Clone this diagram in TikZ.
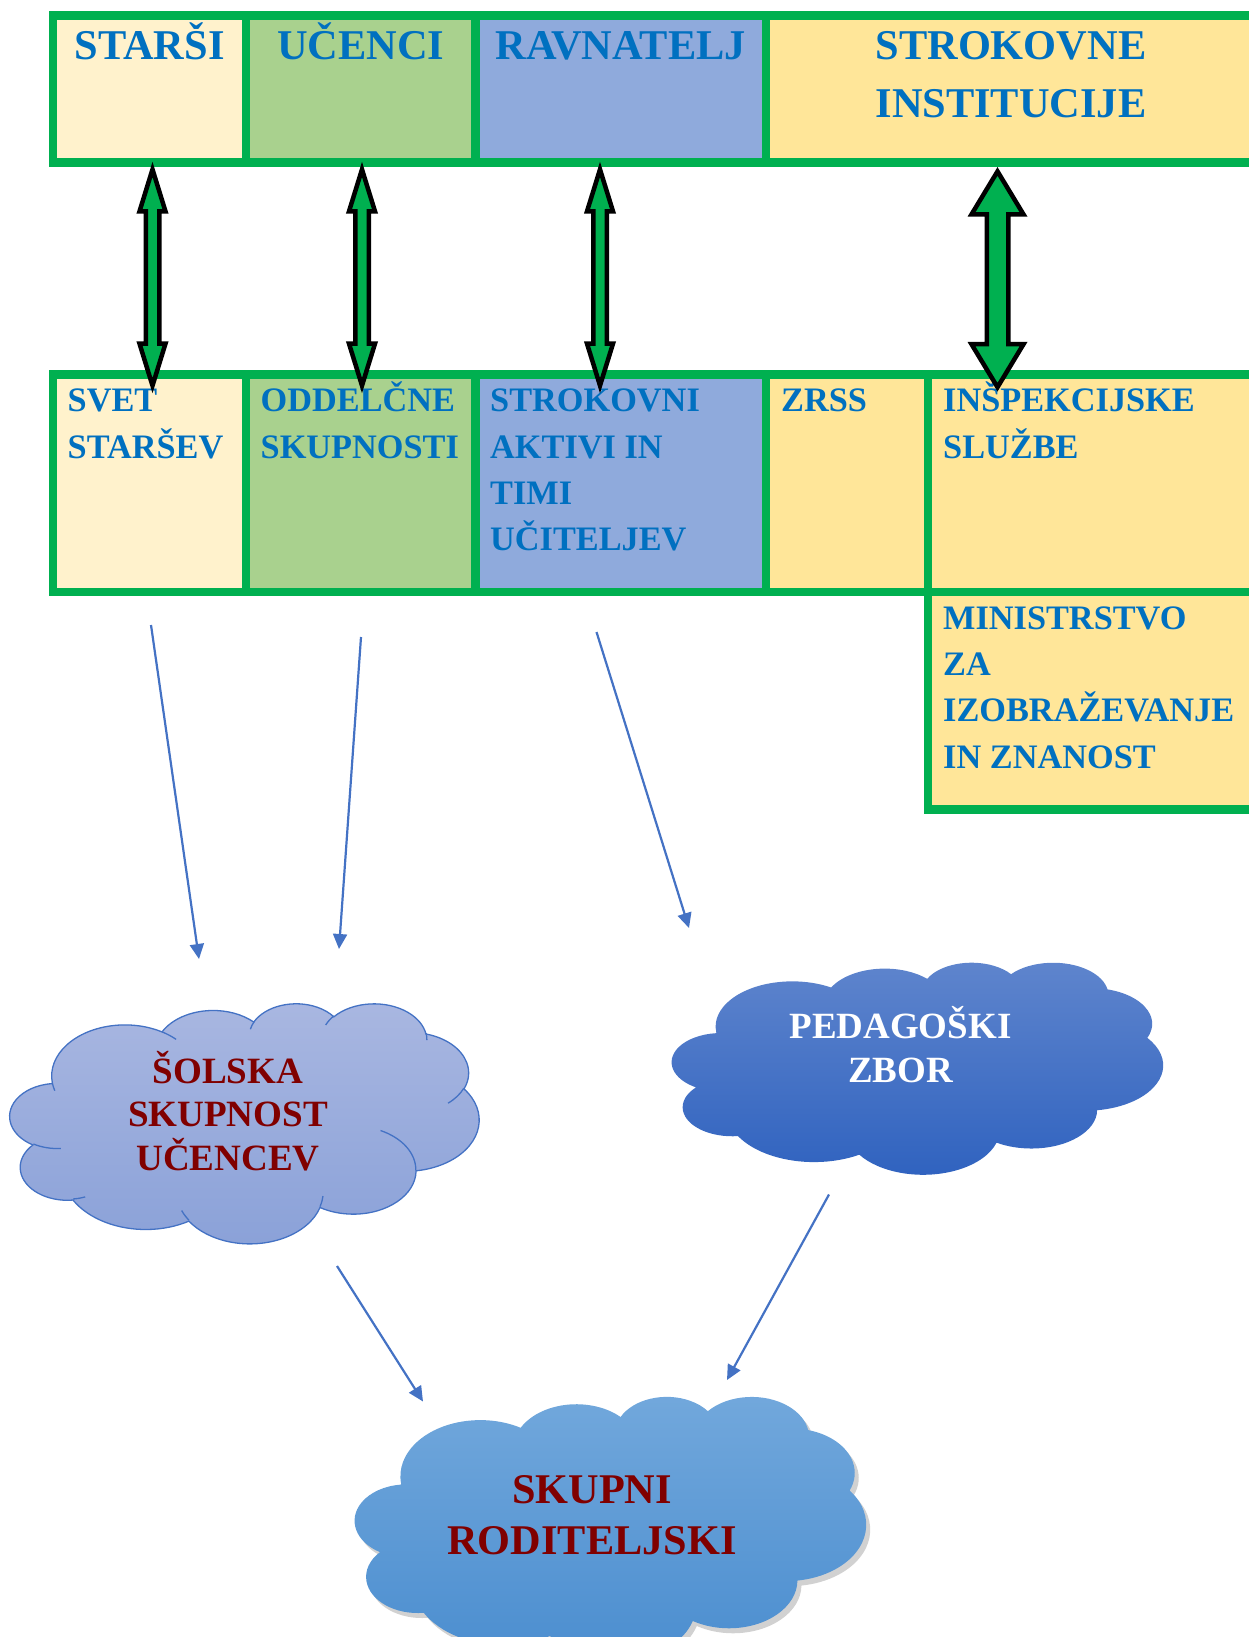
\documentclass[tikz,border=0pt]{standalone}
\usepackage{fontspec}
\setmainfont{Liberation Serif}
\usetikzlibrary{calc,arrows.meta}

\definecolor{tabgreen}{HTML}{00B050}
\definecolor{txtblue}{HTML}{0070C0}
\definecolor{cream}{HTML}{FFF2CC}
\definecolor{leaf}{HTML}{A9D18E}
\definecolor{sky}{HTML}{8FAADC}
\definecolor{gold}{HTML}{FFE699}
\definecolor{lineblue}{HTML}{4472C4}
\definecolor{textred}{HTML}{800000}
\definecolor{cloudAtop}{HTML}{A9B7E1}
\definecolor{cloudAbot}{HTML}{8AA1D8}
\definecolor{cloudBtop}{HTML}{5F85CD}
\definecolor{cloudBbot}{HTML}{2F62BF}
\definecolor{cloudCtop}{HTML}{72A8DC}
\definecolor{cloudCbot}{HTML}{4A8DCF}

% first line of a text block: fixed height above the baseline
\newcommand\capline{\rule{0pt}{1em}}

% block arrow with two heads: top tip, bottom tip, head half width, shaft half width, head length
\newcommand\dblarrow[5]{%
  \draw[blockarrow] (#1) -- ($(#1)+(#3,#5)$) -- ($(#1)+(#4,#5)$) -- ($(#2)+(#4,-#5)$)
    -- ($(#2)+(#3,-#5)$) -- (#2) -- ($(#2)+(-#3,-#5)$) -- ($(#2)+(-#4,-#5)$)
    -- ($(#1)+(-#4,#5)$) -- ($(#1)+(-#3,#5)$) -- cycle;}

% cloud outline in a 432 x 432 frame: x, y, width, height, style
\newcommand\wordcloud[5]{%
  \begin{scope}[shift={(#1,#2)},xscale=#3/432,yscale=#4/432]
    \path[#5] (39.00,143.70)
      \foreach \ra/\rb/\sa/\sw in {67.53/91.90/-190.4875/123.7805, 53.33/72.67/-144.1024/89.9452,
        43.65/59.45/-145.8079/99.7230, 48.57/65.95/-130.9861/117.2417, 53.33/72.73/-78.7089/109.0269,
        67.75/92.20/-46.2673/130.2690, 57.85/78.67/0.6250/114.0333, 67.52/92.15/22.4516/115.1726,
        77.20/105.43/66.2426/75.7110, 43.60/59.18/-274.9421/146.7356, 43.45/59.45/-246.8285/152.5189}
      {arc[x radius=\ra, y radius=\rb, start angle={atan2(\ra*sin(\sa),\rb*cos(\sa))},
           delta angle={mod(atan2(\ra*sin(\sa+\sw),\rb*cos(\sa+\sw))-atan2(\ra*sin(\sa),\rb*cos(\sa))+720,360)}]}
      -- cycle;
  \end{scope}}

% inner arcs of the cloud
\newcommand\cloudarcs[5]{%
  \begin{scope}[shift={(#1,#2)},xscale=#3/432,yscale=#4/432]
    \draw[#5]
      \foreach \px/\py/\ra/\rb/\sa/\sw in {46.93/261.77/43.45/59.45/86.7420/26.4295,
        69.28/348.99/43.60/59.18/73.6105/11.4475, 164.78/390.90/67.52/92.15/137.6242/14.0811,
        288.27/347.51/67.52/92.15/6.4533/15.9984, 341.29/229.54/57.85/78.67/-70.2924/70.9174,
        417.98/153.54/53.33/72.73/30.3180/27.7515, 383.24/54.26/48.57/65.95/-13.7443/14.8589,
        290.78/39.52/48.57/65.95/-149.1815/18.1954, 221.41/47.20/43.65/59.45/-163.4943/17.6864,
        140.00/51.92/67.53/91.90/-66.7070/12.3194, 41.27/157.89/67.53/91.90/157.6544/11.8582}
      {(\px,\py) arc[x radius=\ra, y radius=\rb, start angle={atan2(\ra*sin(\sa),\rb*cos(\sa))},
           delta angle={mod(atan2(\ra*sin(\sa+\sw),\rb*cos(\sa+\sw))-atan2(\ra*sin(\sa),\rb*cos(\sa))+720,360)}]};
  \end{scope}}

\begin{document}
\begin{tikzpicture}[x=1pt, y=-1pt,
  cell/.style={draw=tabgreen, line width=8.5pt, inner sep=0pt, outer sep=0pt, anchor=north west},
  headtext/.style={font=\fontsize{42.4}{57.5}\selectfont\bfseries, text=txtblue, align=center, inner sep=0pt, anchor=north},
  rowtext/.style={font=\fontsize{34.3}{46.2}\selectfont\bfseries, text=txtblue, align=left, inner sep=0pt, anchor=north west},
  cloudtext/.style={align=center, inner sep=0pt, anchor=north},
  blockarrow/.style={draw=black, fill=tabgreen, line width=4.5pt, line join=miter, miter limit=10},
  link/.style={draw=lineblue, line width=2.2pt, -{Triangle[length=15pt,width=14pt]}}]
\useasboundingbox (0,0) rectangle (1249,1637);
\clip (0,0) rectangle (1249,1637);

% upper row
\node[cell, fill=cream, minimum width=193pt, minimum height=147pt] (starsi) at (53,15.5) {};
\node[cell, fill=leaf, minimum width=229.5pt, minimum height=147pt] (ucenci) at (246,15.5) {};
\node[cell, fill=sky, minimum width=290.5pt, minimum height=147pt] (ravnatelj) at (475.5,15.5) {};
\node[cell, fill=gold, minimum width=490pt, minimum height=147pt] (institucije) at (766,15.5) {};

\node[headtext] (t-starsi) at ($(starsi.north)+(0,1.6)$) {\capline STARŠI};
\node[headtext] (t-ucenci) at ($(ucenci.north)+(0,1.6)$) {\capline UČENCI};
\node[headtext] (t-ravnatelj) at ($(ravnatelj.north)+(0,1.6)$) {\capline RAVNATELJ};
\node[headtext] (t-institucije) at ($(institucije.north)+(0,1.6)$) {\capline STROKOVNE\\INSTITUCIJE};

% lower row
\node[cell, fill=cream, minimum width=193pt, minimum height=217.5pt] (svet) at (53,374.5) {};
\node[cell, fill=leaf, minimum width=229.5pt, minimum height=217.5pt] (oddelcne) at (246,374.5) {};
\node[cell, fill=sky, minimum width=290.5pt, minimum height=217.5pt] (aktivi) at (475.5,374.5) {};
\node[cell, fill=gold, minimum width=162pt, minimum height=217.5pt] (zrss) at (766,374.5) {};
\node[cell, fill=gold, minimum width=328pt, minimum height=217.5pt] (inspekcija) at (928,374.5) {};
\node[cell, fill=gold, minimum width=328pt, minimum height=217.5pt] (ministrstvo) at (928,592) {};

\node[rowtext] (t-svet) at ($(svet.north west)+(14.5,2.9)$) {\capline SVET\\STARŠEV};
\node[rowtext] (t-oddelcne) at ($(oddelcne.north west)+(14.5,2.9)$) {\capline ODDELČNE\\SKUPNOSTI};
\node[rowtext] (t-aktivi) at ($(aktivi.north west)+(14.5,2.9)$) {\capline STROKOVNI\\AKTIVI IN\\TIMI\\UČITELJEV};
\node[rowtext] (t-zrss) at ($(zrss.north west)+(15,2.9)$) {\capline ZRSS};
\node[rowtext] (t-inspekcija) at ($(inspekcija.north west)+(15,2.9)$) {\capline INŠPEKCIJSKE\\SLUŽBE};
\node[rowtext] (t-ministrstvo) at ($(ministrstvo.north west)+(15,2.9)$) {\capline MINISTRSTVO\\ZA\\IZOBRAŽEVANJE\\IN ZNANOST};

% double arrows between the rows
\coordinate (a1t) at (152.5,169.4); \coordinate (a1b) at (152.5,385.6);
\coordinate (a2t) at (362,169.4);   \coordinate (a2b) at (362,385.6);
\coordinate (a3t) at (600,169.4);   \coordinate (a3b) at (600,385.6);
\coordinate (a4t) at (997.5,171.4); \coordinate (a4b) at (997.5,387.2);
\dblarrow{a1t}{a1b}{13}{6.75}{42}
\dblarrow{a2t}{a2b}{13}{6.75}{42}
\dblarrow{a3t}{a3b}{13}{6.75}{42}
\dblarrow{a4t}{a4b}{26}{10.75}{43}

% clouds
\wordcloud{10}{1003}{469}{240}{top color=cloudAtop, bottom color=cloudAbot, draw=lineblue, line width=1.3pt}
\cloudarcs{10}{1003}{469}{240}{lineblue, line width=1.3pt}
\wordcloud{672}{962}{491}{212}{top color=cloudBtop, bottom color=cloudBbot}
\wordcloud{359}{1401}{511}{264}{fill=black, opacity=0.18}
\wordcloud{355}{1396}{511}{264}{top color=cloudCtop, bottom color=cloudCbot}

\node[cloudtext, font=\fontsize{37.1}{43.5}\selectfont\bfseries, text=textred] (solska) at (228,1045.9) {\capline ŠOLSKA\\SKUPNOST\\UČENCEV};
\node[cloudtext, font=\fontsize{37}{44}\selectfont\bfseries, text=white] (zbor) at (900.5,1001.5) {\capline PEDAGOŠKI\\ZBOR};
\node[cloudtext, font=\fontsize{42.3}{51}\selectfont\bfseries, text=textred] (skupni) at (592,1460.7) {\capline SKUPNI\\RODITELJSKI};

% thin arrows
\coordinate (svetout) at (151,625);     \coordinate (solskain) at (199,959);
\coordinate (oddout) at (361,637);      \coordinate (solskain2) at (339,949);
\coordinate (aktout) at (596.5,632);    \coordinate (zborin) at (689,928);
\coordinate (solskaout) at (337,1266);  \coordinate (skupniin) at (423,1401.5);
\coordinate (zborout) at (829,1194.5);  \coordinate (skupniin2) at (727,1380);
\draw[link] (svetout) -- (solskain);
\draw[link] (oddout) -- (solskain2);
\draw[link] (aktout) -- (zborin);
\draw[link] (solskaout) -- (skupniin);
\draw[link] (zborout) -- (skupniin2);
\end{tikzpicture}
\end{document}
